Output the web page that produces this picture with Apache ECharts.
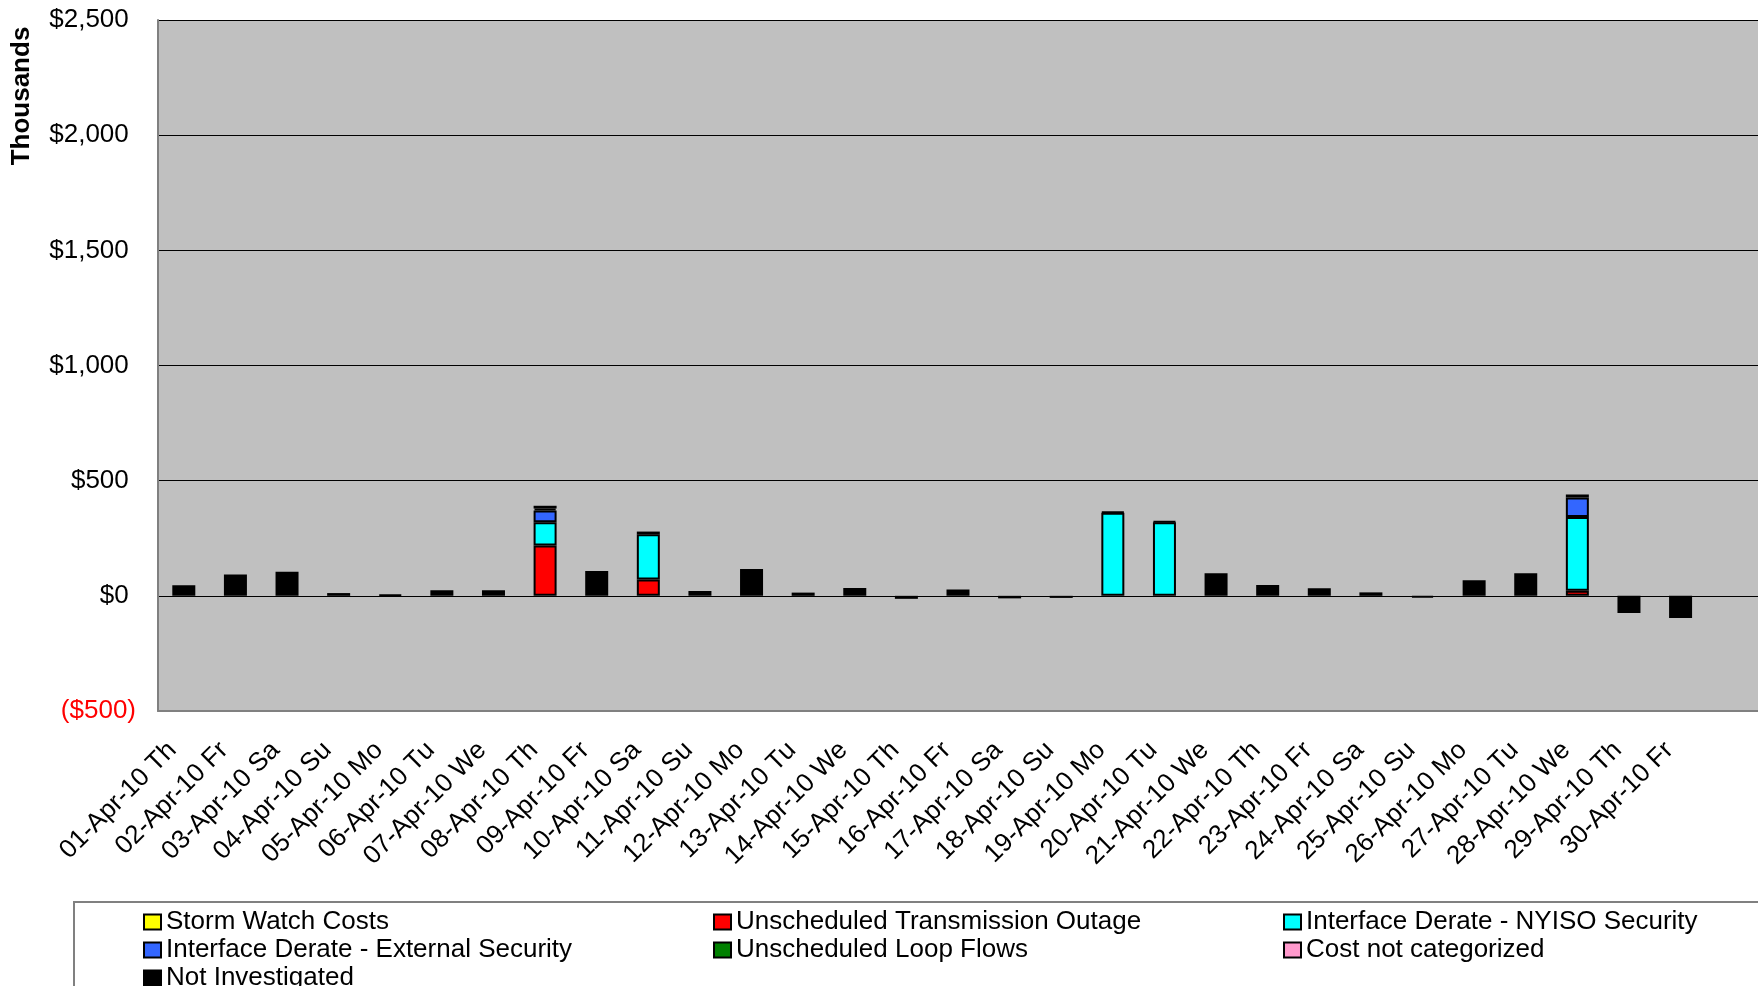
<!DOCTYPE html>
<html>
<head>
<meta charset="utf-8">
<title>Congestion cost by category, April 2010</title>
<script src="https://cdn.jsdelivr.net/npm/echarts@6/dist/echarts.min.js"></script>
<style>
  html, body { margin: 0; padding: 0; background: #fff; }
  #chart { width: 1758px; height: 986px; }
</style>
</head>
<body>
<div id="chart"></div>
<script>
// dates on the x axis
var days = [
    '01-Apr-10 Th', '02-Apr-10 Fr', '03-Apr-10 Sa', '04-Apr-10 Su', '05-Apr-10 Mo',
    '06-Apr-10 Tu', '07-Apr-10 We', '08-Apr-10 Th', '09-Apr-10 Fr', '10-Apr-10 Sa',
    '11-Apr-10 Su', '12-Apr-10 Mo', '13-Apr-10 Tu', '14-Apr-10 We', '15-Apr-10 Th',
    '16-Apr-10 Fr', '17-Apr-10 Sa', '18-Apr-10 Su', '19-Apr-10 Mo', '20-Apr-10 Tu',
    '21-Apr-10 We', '22-Apr-10 Th', '23-Apr-10 Fr', '24-Apr-10 Sa', '25-Apr-10 Su',
    '26-Apr-10 Mo', '27-Apr-10 Tu', '28-Apr-10 We', '29-Apr-10 Th', '30-Apr-10 Fr'
];

// values in $ thousands
var stormWatch       = [0,0,0,0,0, 0,0,0,0,0, 0,0,0,0,0, 0,0,0,0,0, 0,0,0,0,0, 0,0,0,0,0];
var transOutage      = [0,0,0,0,0, 0,0,219,0,71, 0,0,0,0,0, 0,0,0,0,0, 0,0,0,0,0, 0,0,22,0,0];
var nyisoSecurity    = [0,0,0,0,0, 0,0,101,0,196, 0,0,0,0,0, 0,0,0,361,320, 0,0,0,0,0, 0,0,320,0,0];
var externalSecurity = [0,0,0,0,0, 0,0,51,0,0, 0,0,0,0,0, 0,0,0,0,0, 0,0,0,0,0, 0,0,85,0,0];
var loopFlows        = [0,0,0,0,0, 0,0,0,0,0, 0,0,0,0,0, 0,0,0,0,0, 0,0,0,0,0, 0,0,0,0,0];
var notCategorized   = [0,0,0,0,0, 0,0,8,0,0, 0,0,0,0,0, 0,0,0,0,0, 0,0,0,0,0, 0,0,0,0,0];
var notInvestigated  = [46,93,105,12,4, 24,24,12,108,12, 21,117,14,34,-13, 28,-11,-9,4,4,
                        98,47,33,15,-8, 68,98,13,-74,-96];

var yMin = -500, yMax = 2500, yStep = 500;

var FONT = "'Liberation Sans', Arial, sans-serif";

// empty days are left out so they draw no border
function clean(arr) {
    return arr.map(function (v) { return v === 0 ? null : v; });
}

function money(v) {
    var s = Math.abs(v).toString().replace(/\B(?=(\d{3})+(?!\d))/g, ',');
    return v < 0 ? '($' + s + ')' : '$' + s + ' ';
}

var chart = echarts.init(document.getElementById('chart'));

var names = ['Storm Watch Costs', 'Unscheduled Transmission Outage', 'Interface Derate - NYISO Security',
             'Interface Derate - External Security', 'Unscheduled Loop Flows', 'Cost not categorized',
             'Not Investigated'];
var colors = ['#FFFF00', '#FF0000', '#00FFFF', '#3366FF', '#008000', '#FF99CC', '#000000'];
var values = [stormWatch, transOutage, nyisoSecurity, externalSecurity, loopFlows, notCategorized, notInvestigated];

var series = names.map(function (n, i) {
    return {
        name: n,
        type: 'bar',
        stack: 'cost',
        barWidth: 23,
        data: clean(values[i]),
        itemStyle: {
            color: colors[i],
            borderColor: '#000',
            borderWidth: 2
        }
    };
});

var legendBase = {
    orient: 'vertical',
    top: 909,
    height: 200,
    padding: 0,
    itemWidth: 17,
    itemHeight: 15,
    itemGap: 2,
    icon: 'rect',
    textStyle: { fontFamily: FONT, fontSize: 26, lineHeight: 25, color: '#000' }
};

option = {
    backgroundColor: '#fff',
    animation: false,
    grid: {
        left: 158,
        top: 20,
        bottom: 275,
        right: -3,
        show: true,
        backgroundColor: '#C0C0C0',
        borderWidth: 0
    },
    legend: [
        Object.assign({}, legendBase, { left: 143, data: [names[0], names[3], names[6]] }),
        Object.assign({}, legendBase, { left: 713, data: [names[1], names[4]] }),
        Object.assign({}, legendBase, { left: 1283, data: [names[2], names[5]] })
    ],
    xAxis: {
        type: 'category',
        data: days.concat(['']),
        axisLine: { onZero: false, lineStyle: { color: '#808080', width: 2 } },
        axisTick: { show: false },
        axisLabel: {
            interval: 0,
            rotate: 45,
            margin: 24,
            padding: [0, 16, 0, 0],
            fontFamily: FONT,
            fontSize: 26,
            color: '#000'
        }
    },
    yAxis: {
        type: 'value',
        min: yMin,
        max: yMax,
        interval: yStep,
        axisLine: { show: true, lineStyle: { color: '#808080', width: 2 } },
        axisTick: { show: false },
        splitLine: { lineStyle: { color: '#000', width: 1 } },
        axisLabel: {
            margin: 22,
            fontFamily: FONT,
            fontSize: 26,
            formatter: money,
            color: function (v) { return Number(v) < 0 ? '#FF0000' : '#000'; }
        }
    },
    graphic: [
        {
            type: 'text',
            x: 22,
            y: 96,
            rotation: Math.PI / 2,
            style: {
                text: 'Thousands',
                font: 'bold 26px ' + FONT,
                fill: '#000',
                align: 'center',
                verticalAlign: 'middle'
            }
        },
        {
            type: 'rect',
            shape: { x: 74, y: 902, width: 1720, height: 120 },
            style: { fill: 'none', stroke: '#808080', lineWidth: 2 }
        }
    ],
    series: series
};

chart.setOption(option);
</script>
</body>
</html>
